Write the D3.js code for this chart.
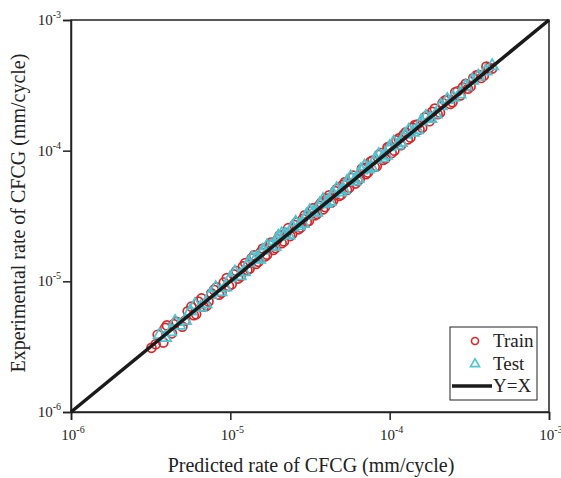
<!DOCTYPE html>
<html>
<head>
<meta charset="utf-8">
<script src="https://cdn.jsdelivr.net/npm/d3@7"></script>
<style>
  body { margin: 0; background: #fff; }
  text { font-family: "Liberation Serif", "Times New Roman", serif; }
</style>
</head>
<body>
<script>
// data (mm/cycle)
var trainPred = [3.2e-6, 3.5e-6, 3.8e-6, 4.0e-6, 4.3e-6, 4.6e-6, 5.0e-6, 5.4e-6, 5.9e-6, 6.3e-6,
    6.8e-6, 7.3e-6, 7.9e-6, 8.5e-6, 9.1e-6, 9.8e-6, 1.05e-5, 1.12e-5, 1.2e-5, 1.28e-5,
    1.36e-5, 1.45e-5, 1.55e-5, 1.65e-5, 1.75e-5, 1.86e-5, 1.98e-5, 2.1e-5, 2.24e-5, 2.38e-5,
    2.52e-5, 2.68e-5, 2.85e-5, 3.02e-5, 3.2e-5, 3.4e-5, 3.6e-5, 3.82e-5, 4.05e-5, 4.3e-5,
    4.55e-5, 4.82e-5, 5.1e-5, 5.4e-5, 5.75e-5, 6.1e-5, 6.5e-5, 6.9e-5, 7.3e-5, 7.8e-5,
    8.3e-5, 8.8e-5, 9.4e-5, 1.0e-4, 1.07e-4, 1.14e-4, 1.22e-4, 1.3e-4, 1.39e-4, 1.49e-4,
    1.6e-4, 1.72e-4, 1.85e-4, 2.0e-4, 2.15e-4, 2.3e-4, 2.48e-4, 2.67e-4, 2.88e-4, 3.1e-4,
    3.35e-4, 3.6e-4, 3.9e-4, 4.2e-4,
    3.4e-6, 3.9e-6, 4.4e-6, 5.2e-6, 5.7e-6, 6.1e-6, 6.6e-6, 7.1e-6, 7.6e-6, 8.2e-6,
    8.8e-6, 9.5e-6, 1.02e-5, 1.09e-5, 1.16e-5, 1.24e-5, 1.32e-5, 1.41e-5, 1.5e-5, 1.6e-5,
    1.7e-5, 1.8e-5, 1.92e-5, 2.04e-5, 2.17e-5, 2.31e-5, 2.45e-5, 2.6e-5, 2.76e-5, 2.93e-5,
    3.11e-5, 3.3e-5, 3.5e-5, 3.71e-5, 3.93e-5, 4.17e-5, 4.42e-5, 4.68e-5, 4.96e-5, 5.25e-5,
    5.57e-5, 5.9e-5, 6.3e-5, 6.7e-5, 7.1e-5, 7.55e-5, 8.05e-5, 8.55e-5, 9.1e-5, 9.7e-5,
    1.03e-4, 1.1e-4, 1.18e-4, 1.26e-4, 1.35e-4, 1.44e-4, 1.54e-4, 1.66e-4, 1.78e-4, 1.92e-4,
    2.07e-4, 2.22e-4, 2.4e-4, 2.58e-4, 2.78e-4, 3.0e-4, 3.22e-4, 3.48e-4, 3.75e-4, 4.05e-4,
    4.4e-4];
var trainExp = [3.1e-6, 3.9e-6, 3.4e-6, 4.6e-6, 4.0e-6, 4.9e-6, 4.5e-6, 5.9e-6, 5.5e-6, 7.0e-6,
    6.4e-6, 7.0e-6, 8.6e-6, 7.9e-6, 9.8e-6, 9.2e-6, 1.13e-5, 1.05e-5, 1.3e-5, 1.22e-5,
    1.5e-5, 1.36e-5, 1.67e-5, 1.55e-5, 1.9e-5, 1.74e-5, 2.1e-5, 1.96e-5, 2.35e-5, 2.22e-5,
    2.7e-5, 2.5e-5, 3.0e-5, 2.85e-5, 3.45e-5, 3.2e-5, 3.8e-5, 3.55e-5, 4.3e-5, 4.0e-5,
    4.9e-5, 4.5e-5, 5.5e-5, 5.0e-5, 6.2e-5, 5.6e-5, 6.1e-5, 7.4e-5, 6.8e-5, 8.4e-5,
    7.6e-5, 9.6e-5, 8.7e-5, 1.08e-4, 1.0e-4, 1.24e-4, 1.32e-4, 1.22e-4, 1.5e-4, 1.58e-4,
    1.5e-4, 1.86e-4, 1.98e-4, 1.9e-4, 2.32e-4, 2.46e-4, 2.35e-4, 2.85e-4, 3.05e-4, 2.98e-4,
    3.6e-4, 3.8e-4, 3.75e-4, 4.3e-4,
    3.3e-6, 4.4e-6, 4.7e-6, 5.0e-6, 6.4e-6, 5.6e-6, 7.4e-6, 6.5e-6, 8.1e-6, 9.0e-6,
    8.2e-6, 1.06e-5, 9.5e-6, 1.2e-5, 1.09e-5, 1.38e-5, 1.25e-5, 1.58e-5, 1.41e-5, 1.78e-5,
    1.6e-5, 1.98e-5, 1.8e-5, 2.25e-5, 2.02e-5, 2.55e-5, 2.3e-5, 2.82e-5, 2.58e-5, 3.2e-5,
    2.9e-5, 3.62e-5, 3.28e-5, 4.0e-5, 3.7e-5, 4.55e-5, 4.15e-5, 5.1e-5, 4.6e-5, 5.75e-5,
    5.2e-5, 6.45e-5, 5.85e-5, 7.3e-5, 6.6e-5, 8.2e-5, 7.5e-5, 9.3e-5, 8.5e-5, 1.06e-4,
    9.6e-5, 1.2e-4, 1.1e-4, 1.38e-4, 1.26e-4, 1.57e-4, 1.45e-4, 1.8e-4, 1.68e-4, 2.1e-4,
    1.95e-4, 2.42e-4, 2.28e-4, 2.8e-4, 2.65e-4, 3.25e-4, 3.1e-4, 3.75e-4, 3.6e-4, 4.4e-4,
    4.25e-4];

var testPred = [3.6e-6, 4.2e-6, 4.8e-6, 5.6e-6, 6.5e-6, 7.5e-6, 8.7e-6, 1.0e-5, 1.15e-5, 1.3e-5,
    1.45e-5, 1.6e-5, 1.8e-5, 2.0e-5, 2.2e-5, 2.45e-5, 2.7e-5, 3.0e-5, 3.3e-5, 3.65e-5,
    4.0e-5, 4.4e-5, 4.9e-5, 5.4e-5, 6.0e-5, 6.6e-5, 7.3e-5, 8.1e-5, 9.0e-5, 1.0e-4,
    1.12e-4, 1.25e-4, 1.4e-4, 1.58e-4, 1.8e-4, 2.1e-4, 2.5e-4, 3.0e-4, 3.6e-4, 4.4e-4,
    3.9e-6, 4.5e-6, 5.2e-6, 6.0e-6, 7.0e-6, 8.1e-6, 9.3e-6, 1.07e-5, 1.22e-5, 1.37e-5,
    1.52e-5, 1.7e-5, 1.9e-5, 2.1e-5, 2.32e-5, 2.57e-5, 2.85e-5, 3.15e-5, 3.47e-5, 3.82e-5,
    4.2e-5, 4.65e-5, 5.15e-5, 5.7e-5, 6.3e-5, 6.95e-5, 7.7e-5, 8.55e-5, 9.5e-5, 1.06e-4,
    1.18e-4, 1.32e-4, 1.49e-4, 1.69e-4, 1.95e-4, 2.3e-4, 2.75e-4, 3.3e-4, 4.0e-4];
var testExp = [3.9e-6, 4.1e-6, 4.6e-6, 5.9e-6, 6.3e-6, 7.9e-6, 8.3e-6, 1.06e-5, 1.1e-5, 1.38e-5,
    1.5e-5, 1.72e-5, 1.86e-5, 2.2e-5, 2.28e-5, 2.6e-5, 2.65e-5, 3.2e-5, 3.35e-5, 3.9e-5,
    3.95e-5, 4.7e-5, 4.8e-5, 5.8e-5, 5.85e-5, 7.1e-5, 7.2e-5, 8.6e-5, 8.8e-5, 1.07e-4,
    1.1e-4, 1.33e-4, 1.38e-4, 1.68e-4, 1.76e-4, 2.2e-4, 2.55e-4, 3.1e-4, 3.7e-4, 4.45e-4,
    3.7e-6, 4.9e-6, 5.0e-6, 6.6e-6, 6.7e-6, 8.9e-6, 9.0e-6, 1.17e-5, 1.18e-5, 1.5e-5,
    1.47e-5, 1.86e-5, 1.84e-5, 2.3e-5, 2.25e-5, 2.82e-5, 2.76e-5, 3.45e-5, 3.36e-5, 4.2e-5,
    4.07e-5, 5.1e-5, 5.0e-5, 6.25e-5, 6.1e-5, 7.6e-5, 7.45e-5, 9.3e-5, 9.2e-5, 1.16e-4,
    1.15e-4, 1.43e-4, 1.44e-4, 1.82e-4, 1.9e-4, 2.45e-4, 2.7e-4, 3.45e-4, 4.05e-4];

var tickVals = [1e-6, 1e-5, 1e-4, 1e-3];
var tickExps = ["-6", "-5", "-4", "-3"];
var legendNames = ["Train", "Test", "Y=X"];

drawChart();

function drawChart() {
    var width = 561, height = 478;
    var mLeft = 71, mRight = 549, mTop = 20, mBottom = 412;
    var red = "#d8262a", cyan = "#4cc4d2";

    var svg = d3.select("body").append("svg")
        .attr("width", width)
        .attr("height", height);

    var x = d3.scaleLog().domain([1e-6, 1e-3]).range([mLeft, mRight]);
    var y = d3.scaleLog().domain([1e-6, 1e-3]).range([mBottom, mTop]);

    // frame
    svg.append("rect")
        .attr("x", mLeft).attr("y", mTop)
        .attr("width", mRight - mLeft).attr("height", mBottom - mTop)
        .attr("fill", "none").attr("stroke", "#222").attr("stroke-width", 1.5);

    // axes
    svg.append("g")
        .attr("transform", "translate(0," + mBottom + ")")
        .call(d3.axisBottom(x).tickValues(tickVals).tickSize(8).tickFormat(""));
    svg.append("g")
        .attr("transform", "translate(" + mLeft + ",0)")
        .call(d3.axisLeft(y).tickValues(tickVals).tickSize(8).tickFormat(""));
    svg.selectAll(".domain").attr("stroke", "#222").attr("stroke-width", 1.5);
    svg.selectAll(".tick line").attr("stroke", "#222").attr("stroke-width", 1.5);

    // tick labels 10^n
    function powLabel(px, py, anchor, i) {
        var t = svg.append("text")
            .attr("x", px).attr("y", py)
            .attr("text-anchor", anchor)
            .style("font-size", "15px")
            .attr("fill", "#222");
        t.append("tspan").text("10");
        t.append("tspan").attr("dy", -7).style("font-size", "10px").text(tickExps[i]);
    }
    tickVals.forEach(function (v, i) {
        powLabel(x(v) + 2, 440, "middle", i);
        powLabel(mLeft - 10, y(v) + 5, "end", i);
    });

    // scatter
    var trainData = trainPred.map(function (d, i) { return [d, trainExp[i]]; });
    var testData = testPred.map(function (d, i) { return [d, testExp[i]]; });

    svg.append("g").selectAll("circle")
        .data(trainData)
        .enter().append("circle")
        .attr("cx", function (d) { return x(d[0]); })
        .attr("cy", function (d) { return y(d[1]); })
        .attr("r", 4.5)
        .attr("fill", "none")
        .attr("stroke", red)
        .attr("stroke-width", 1.7);

    var tri = d3.symbol().type(d3.symbolTriangle).size(60);
    svg.append("g").selectAll("path")
        .data(testData)
        .enter().append("path")
        .attr("d", tri)
        .attr("transform", function (d) { return "translate(" + x(d[0]) + "," + y(d[1]) + ")"; })
        .attr("fill", "none")
        .attr("stroke", cyan)
        .attr("stroke-width", 1.8);

    // Y = X line
    svg.append("line")
        .attr("x1", x(1e-6)).attr("y1", y(1e-6))
        .attr("x2", x(1e-3)).attr("y2", y(1e-3))
        .attr("stroke", "#1a1a1a")
        .attr("stroke-width", 3.5);

    // axis titles
    svg.append("text")
        .attr("x", 311).attr("y", 472)
        .attr("text-anchor", "middle")
        .style("font-size", "20px")
        .attr("fill", "#222")
        .text("Predicted rate of CFCG (mm/cycle)");
    svg.append("text")
        .attr("transform", "translate(25,213) rotate(-90)")
        .attr("text-anchor", "middle")
        .style("font-size", "20px")
        .attr("fill", "#222")
        .text("Experimental rate of CFCG (mm/cycle)");

    // legend
    var lg = svg.append("g").attr("transform", "translate(450,327)");
    lg.append("rect")
        .attr("width", 87).attr("height", 73)
        .attr("fill", "#fff").attr("stroke", "#222").attr("stroke-width", 1);
    var rows = [14, 37, 59];
    lg.append("circle").attr("cx", 25).attr("cy", rows[0]).attr("r", 3.5)
        .attr("fill", "none").attr("stroke", red).attr("stroke-width", 1.6);
    lg.append("path").attr("d", d3.symbol().type(d3.symbolTriangle).size(36))
        .attr("transform", "translate(25," + rows[1] + ")")
        .attr("fill", "none").attr("stroke", cyan).attr("stroke-width", 1.6);
    lg.append("line").attr("x1", 2).attr("x2", 42).attr("y1", rows[2]).attr("y2", rows[2])
        .attr("stroke", "#1a1a1a").attr("stroke-width", 3.5);
    legendNames.forEach(function (n, i) {
        lg.append("text")
            .attr("x", 43).attr("y", rows[i] + 6)
            .style("font-size", "19px")
            .attr("fill", "#222")
            .text(n);
    });
}
</script>
</body>
</html>
